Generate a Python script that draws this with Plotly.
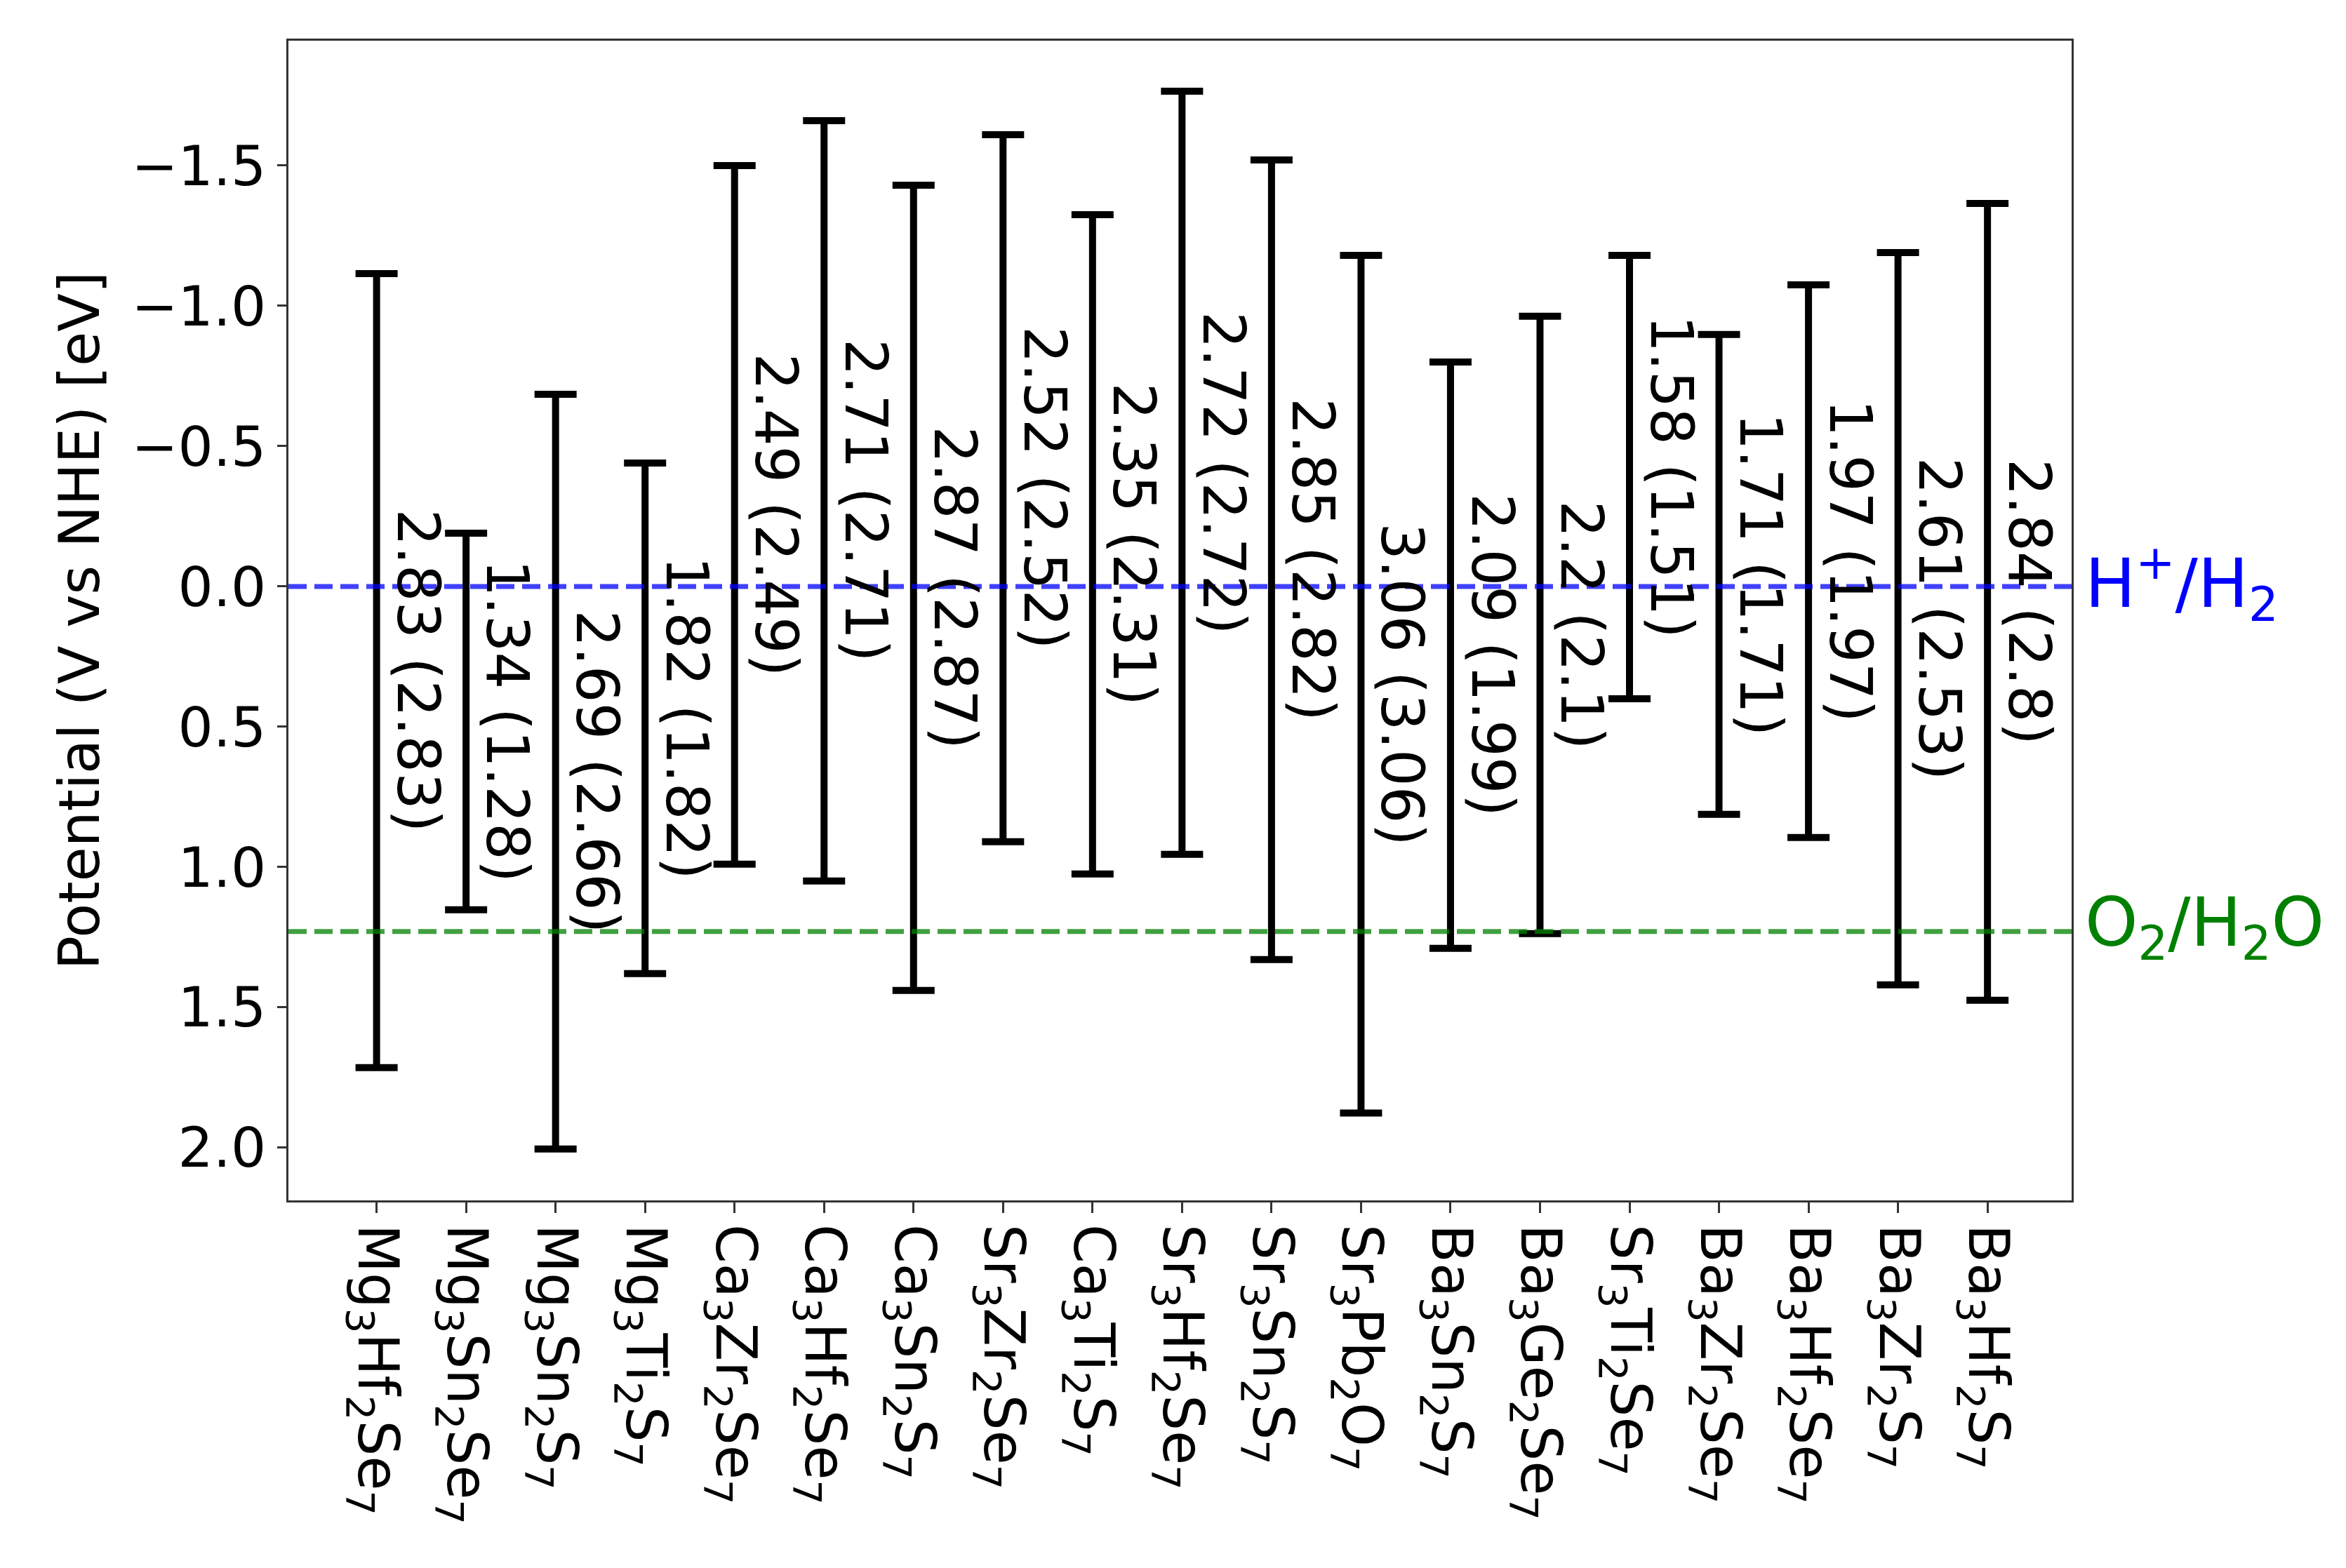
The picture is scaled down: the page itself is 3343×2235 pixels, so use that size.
import plotly.graph_objects as go

compounds = ["Mg<sub>3</sub>Hf<sub>2</sub>Se<sub>7</sub>", "Mg<sub>3</sub>Sn<sub>2</sub>Se<sub>7</sub>",
             "Mg<sub>3</sub>Sn<sub>2</sub>S<sub>7</sub>", "Mg<sub>3</sub>Ti<sub>2</sub>S<sub>7</sub>",
             "Ca<sub>3</sub>Zr<sub>2</sub>Se<sub>7</sub>", "Ca<sub>3</sub>Hf<sub>2</sub>Se<sub>7</sub>",
             "Ca<sub>3</sub>Sn<sub>2</sub>S<sub>7</sub>", "Sr<sub>3</sub>Zr<sub>2</sub>Se<sub>7</sub>",
             "Ca<sub>3</sub>Ti<sub>2</sub>S<sub>7</sub>", "Sr<sub>3</sub>Hf<sub>2</sub>Se<sub>7</sub>",
             "Sr<sub>3</sub>Sn<sub>2</sub>S<sub>7</sub>", "Sr<sub>3</sub>Pb<sub>2</sub>O<sub>7</sub>",
             "Ba<sub>3</sub>Sn<sub>2</sub>S<sub>7</sub>", "Ba<sub>3</sub>Ge<sub>2</sub>Se<sub>7</sub>",
             "Sr<sub>3</sub>Ti<sub>2</sub>Se<sub>7</sub>", "Ba<sub>3</sub>Zr<sub>2</sub>Se<sub>7</sub>",
             "Ba<sub>3</sub>Hf<sub>2</sub>Se<sub>7</sub>", "Ba<sub>3</sub>Zr<sub>2</sub>S<sub>7</sub>",
             "Ba<sub>3</sub>Hf<sub>2</sub>S<sub>7</sub>"]

# conduction band edge (top of bar) and valence band edge (bottom of bar), V vs NHE
cbm = [-1.115, -0.19, -0.685, -0.44, -1.50, -1.66, -1.43, -1.61, -1.325, -1.765,
       -1.52, -1.18, -0.80, -0.963, -1.18, -0.898, -1.075, -1.19, -1.365]
vbm = [1.715, 1.152, 2.005, 1.38, 0.99, 1.05, 1.44, 0.91, 1.025, 0.955,
       1.33, 1.877, 1.29, 1.237, 0.40, 0.812, 0.895, 1.42, 1.475]

gap_main = [2.83, 1.34, 2.69, 1.82, 2.49, 2.71, 2.87, 2.52, 2.35, 2.72,
            2.85, 3.06, 2.09, 2.2, 1.58, 1.71, 1.97, 2.61, 2.84]
gap_paren = [2.83, 1.28, 2.66, 1.82, 2.49, 2.71, 2.87, 2.52, 2.31, 2.72,
             2.82, 3.06, 1.99, 2.1, 1.51, 1.71, 1.97, 2.53, 2.8]

h_level = 0.0
o_level = 1.23

yticks = [-1.5, -1.0, -0.5, 0.0, 0.5, 1.0, 1.5, 2.0]
ytick_text = ["\u22121.5", "\u22121.0", "\u22120.5", "0.0", "0.5", "1.0", "1.5", "2.0"]

FONT = "DejaVu Sans"
xs = list(range(len(compounds)))
mids = [(a + b) / 2 for a, b in zip(cbm, vbm)]
half = [(b - a) / 2 for a, b in zip(cbm, vbm)]

fig = go.Figure()
fig.add_trace(go.Scatter(
    x=xs, y=mids, mode="markers",
    marker=dict(size=1, color="rgba(0,0,0,0)"),
    error_y=dict(type="data", array=half, symmetric=True, color="black",
                 thickness=10, width=30),
    showlegend=False, hoverinfo="skip"))

fig.add_hline(y=h_level, line=dict(color="rgba(0,0,255,0.75)", width=7, dash="26px,11px"))
fig.add_hline(y=o_level, line=dict(color="rgba(0,128,0,0.75)", width=7, dash="26px,11px"))

for i in xs:
    fig.add_annotation(x=i + 0.46, y=mids[i], text=f"{gap_main[i]} ({gap_paren[i]})",
                       textangle=90, showarrow=False, xanchor="center", yanchor="middle",
                       font=dict(family=FONT, size=83, color="black"))

fig.add_annotation(xref="paper", x=1, xanchor="left", xshift=17, y=h_level, yanchor="middle",
                   yshift=4, text="H<sup>+</sup>/H<sub>2</sub>", showarrow=False,
                   font=dict(family=FONT, size=96, color="#0000ff"))
fig.add_annotation(xref="paper", x=1, xanchor="left", xshift=17, y=o_level, yanchor="middle",
                   yshift=6, text="O<sub>2</sub>/H<sub>2</sub>O", showarrow=False,
                   font=dict(family=FONT, size=96, color="#008000"))

fig.update_layout(
    width=3327, height=2219,
    margin=dict(l=403, r=383, t=50, b=516, autoexpand=False),
    paper_bgcolor="white", plot_bgcolor="white",
    font=dict(family=FONT, color="black"),
    xaxis=dict(range=[-0.985, 18.94], tickmode="array", tickvals=xs, ticktext=compounds,
               tickangle=90, ticks="outside", ticklen=15, tickwidth=3, tickcolor="#333",
               showline=True, linecolor="#333", linewidth=3, mirror=True,
               showgrid=False, zeroline=False, tickfont=dict(family=FONT, size=80)),
    yaxis=dict(range=[2.188, -1.945], tickmode="array", tickvals=yticks, ticktext=ytick_text,
               ticks="outside", ticklen=13, tickwidth=3, tickcolor="#333",
               showline=True, linecolor="#333", linewidth=3, mirror=True,
               showgrid=False, zeroline=False, tickfont=dict(family=FONT, size=79),
               title=dict(text="Potential (V vs NHE) [eV]", font=dict(family=FONT, size=80),
                          standoff=20)),
)

fig.write_html("out.html")
